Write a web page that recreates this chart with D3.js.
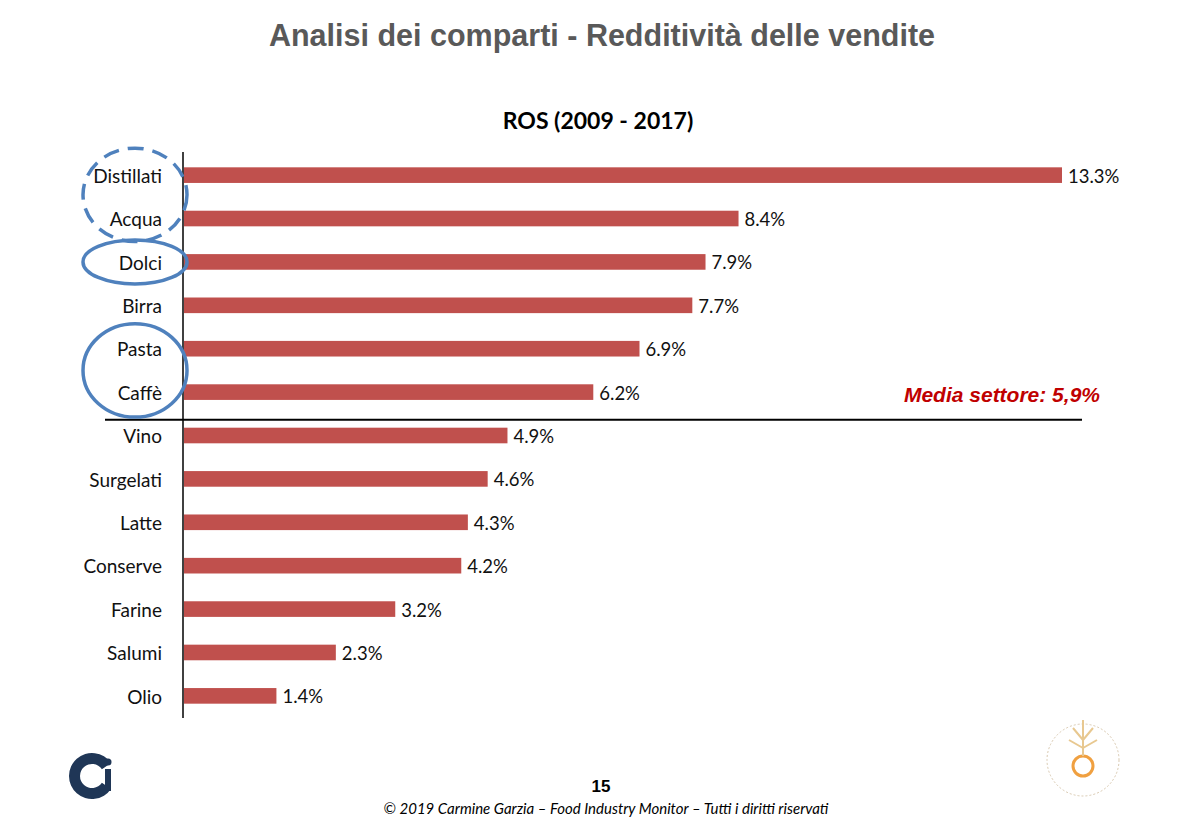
<!DOCTYPE html>
<html>
<head>
<meta charset="UTF-8">
<title>Analisi dei comparti - Redditività delle vendite</title>
<script src="https://d3js.org/d3.v7.min.js"></script>
<style>
  body { margin: 0; background: #ffffff; }
  svg { display: block; }
  .cat { font: 19px Lato, "Open Sans", sans-serif; fill: #111; text-anchor: end; }
  .val { font: 18.5px Lato, "Open Sans", sans-serif; fill: #111; }
</style>
</head>
<body>
<svg id="chart" width="1200" height="832"></svg>
<script>
// dati
const categories = ["Distillati", "Acqua", "Dolci", "Birra", "Pasta", "Caffè", "Vino",
                    "Surgelati", "Latte", "Conserve", "Farine", "Salumi", "Olio"];
const rosValues = [13.3, 8.4, 7.9, 7.7, 6.9, 6.2, 4.9, 4.6, 4.3, 4.2, 3.2, 2.3, 1.4];
const sectorMean = 5.9;
const highlighted = [["Distillati", "Acqua"], ["Dolci"], ["Pasta", "Caffè"]];

const svg = d3.select("#chart");

svg.append("text")
  .attr("x", 602).attr("y", 46)
  .attr("text-anchor", "middle")
  .style("font", "bold 30.5px 'Liberation Sans', Arial, sans-serif")
  .style("fill", "#595959")
  .text("Analisi dei comparti - Redditività delle vendite");

svg.append("text")
  .attr("x", 598).attr("y", 129)
  .attr("text-anchor", "middle")
  .style("font", "bold 23px Lato, 'Open Sans', sans-serif")
  .style("fill", "#000")
  .text("ROS (2009 - 2017)");

const x = d3.scaleLinear().domain([0, 13.3]).range([184, 1062]);
const y = d3.scaleBand().domain(categories).range([153, 718]).paddingInner(0.64).paddingOuter(0.33);

const fmt = v => v.toFixed(1) + "%";

// barre
svg.append("g").selectAll("rect")
  .data(rosValues)
  .join("rect")
  .attr("x", x(0))
  .attr("y", (d, i) => y(categories[i]))
  .attr("width", d => x(d) - x(0))
  .attr("height", y.bandwidth())
  .attr("fill", "#c0504d");

svg.append("g").selectAll("text")
  .data(rosValues)
  .join("text")
  .attr("class", "val")
  .attr("x", d => x(d) + 6)
  .attr("y", (d, i) => y(categories[i]) + y.bandwidth() / 2 + 1)
  .attr("dy", "0.35em")
  .text(fmt);

svg.append("g").selectAll("text")
  .data(categories)
  .join("text")
  .attr("class", "cat")
  .attr("x", 162)
  .attr("y", d => y(d) + y.bandwidth() / 2 + 1)
  .attr("dy", "0.35em")
  .text(d => d);

// asse verticale
svg.append("line")
  .attr("x1", 183).attr("x2", 183)
  .attr("y1", 152).attr("y2", 718)
  .attr("stroke", "#000").attr("stroke-width", 1.5);

// linea media di settore, sopra Vino
const meanY = y("Vino") - 8;
svg.append("line")
  .attr("x1", 105).attr("x2", 1082)
  .attr("y1", meanY).attr("y2", meanY)
  .attr("stroke", "#000").attr("stroke-width", 2);

svg.append("text")
  .attr("x", 1100).attr("y", meanY - 18)
  .attr("text-anchor", "end")
  .style("font", "italic bold 21px 'Liberation Sans', Arial, sans-serif")
  .style("fill", "#c00000")
  .text("Media settore: " + String(sectorMean).replace(".", ",") + "%");

// cerchi evidenziati
highlighted.forEach((grp, k) => {
  const top = y(grp[0]) + y.bandwidth() / 2;
  const bot = y(grp[grp.length - 1]) + y.bandwidth() / 2;
  const cy = (top + bot) / 2 + (k === 0 ? -2 : 0);
  const ry = grp.length > 1 ? (bot - top) / 2 + 25 : 22;
  svg.append("ellipse")
    .attr("cx", 135).attr("cy", cy)
    .attr("rx", 52).attr("ry", ry)
    .attr("fill", "none")
    .attr("stroke", "#4f81bd")
    .attr("stroke-width", 3.5)
    .attr("stroke-dasharray", k === 0 ? "16,9" : null);
});

// footer
svg.append("text")
  .attr("x", 601).attr("y", 792)
  .attr("text-anchor", "middle")
  .style("font", "bold 17px 'Liberation Sans', Arial, sans-serif")
  .style("fill", "#000")
  .text("15");

svg.append("text")
  .attr("x", 606).attr("y", 814)
  .attr("text-anchor", "middle")
  .style("font", "italic 15px Lato, 'Open Sans', sans-serif")
  .style("fill", "#000")
  .text("© 2019 Carmine Garzia – Food Industry Monitor – Tutti i diritti riservati");

// logo Ci
const logo = svg.append("g").attr("transform", "translate(92,776)");
logo.append("path")
  .attr("d", d3.arc()({innerRadius: 12, outerRadius: 23,
                       startAngle: Math.PI / 2 + 0.6, endAngle: Math.PI / 2 + 2 * Math.PI - 0.6}))
  .attr("fill", "#1f3656");
logo.append("rect").attr("x", 13).attr("y", -7).attr("width", 6).attr("height", 22).attr("fill", "#1f3656");
logo.append("circle").attr("cx", 16).attr("cy", -14).attr("r", 3.5).attr("fill", "#1f3656");

// logo università (stilizzato)
const uni = svg.append("g").attr("transform", "translate(1083,760)");
uni.append("circle").attr("r", 36).attr("fill", "none").attr("stroke", "#d9c9b0").attr("stroke-width", 1).attr("stroke-dasharray", "2,2");
uni.append("circle").attr("cx", 0).attr("cy", 6).attr("r", 10).attr("fill", "none").attr("stroke", "#f0a040").attr("stroke-width", 3);
uni.append("path").attr("d", "M0,-4 L0,-40 M0,-20 L-10,-32 M0,-20 L10,-32 M0,-12 L-14,-20 M0,-12 L14,-20")
  .attr("stroke", "#e8c890").attr("stroke-width", 2).attr("fill", "none");
</script>
</body>
</html>
